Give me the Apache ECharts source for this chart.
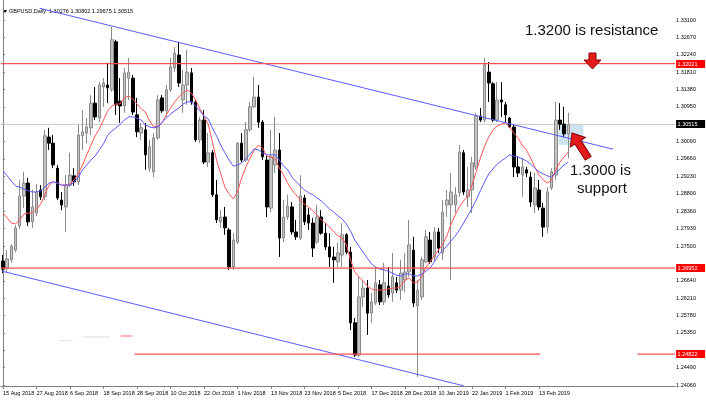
<!DOCTYPE html>
<html><head><meta charset="utf-8">
<script src="https://cdn.jsdelivr.net/npm/echarts@6/dist/echarts.min.js"></script>
<style>html,body{margin:0;padding:0;background:#fff}#c{width:706px;height:404px}</style>
</head><body><div id="c"></div>
<script>
// trading days per month
const aug = [15,16,17,20,21,22,23,24,27,28,29,30,31];
const sep = [3,4,5,6,7,10,11,12,13,14,17,18,19,20,21,24,25,26,27,28];
const oct = [1,2,3,4,5,8,9,10,11,12,15,16,17,18,19,22,23,24,25,26,29,30,31];
const nov = [1,2,5,6,7,8,9,12,13,14,15,16,19,20,21,22,23,26,27,28,29,30];
const dec = [3,4,5,6,7,10,11,12,13,14,17,18,19,20,21,24,26,27,28,31];
const jan = [2,3,4,7,8,9,10,11,14,15,16,17,18,21,22,23,24,25,28,29,30,31];
const feb = [1,4,5,6,7,8,11,12,13,14,15,18,19,20,21,22];
const emptySlots = 25;

const opens = [
1.2713,1.2696,1.2716,1.2740,1.2800,1.2874,1.2906,1.2810,1.2832,1.2889,
1.2872,1.3020,1.3005,1.2943,1.2864,1.2847,1.2901,1.2924,1.2909,1.3023,
1.3030,1.3043,1.3104,1.3067,1.3144,1.3149,1.3137,1.3256,1.3109,1.3097,
1.3166,1.3166,1.3075,1.3030,1.3038,1.2943,1.2934,1.3018,1.3117,1.3085,
1.3137,1.3191,1.3223,1.3112,1.3149,1.3179,1.3107,1.3013,1.3062,1.2958,
1.2981,1.2877,1.2810,1.2822,1.2790,1.2698,1.2760,1.3005,1.2963,1.3038,
1.3095,1.3119,1.3057,1.2963,1.2844,1.2951,1.2988,1.2770,1.2822,1.2847,
1.2785,1.2770,1.2869,1.2827,1.2807,1.2760,1.2822,1.2782,1.2748,1.2723,
1.2711,1.2728,1.2778,1.2735,1.2560,1.2480,1.2624,1.2646,1.2584,1.2609,
1.2654,1.2612,1.2651,1.2634,1.2659,1.2641,1.2666,1.2686,1.2740,1.2602,
1.2624,1.2711,1.2765,1.2723,1.2785,1.2733,1.2852,1.2852,1.2852,1.2882,
1.2981,1.2872,1.2889,1.2946,1.3072,1.3062,1.3181,1.3152,1.3062,1.3112,
1.3100,1.3067,1.3045,1.2946,1.2926,1.2939,1.2921,1.2852,1.2889,1.2844,
1.2797,1.2894,1.2926,1.3062,1.3052,1.30276];
const closes = [
1.2693,1.2718,1.2750,1.2795,1.2874,1.2906,1.2810,1.2847,1.2884,1.2872,
1.3023,1.3005,1.2951,1.2869,1.2852,1.2901,1.2926,1.2909,1.3025,1.3033,
1.3045,1.3104,1.3070,1.3149,1.3154,1.3142,1.3261,1.3100,1.3097,1.3179,
1.3181,1.3082,1.3033,1.3043,1.2976,1.2996,1.3018,1.3112,1.3085,1.3137,
1.3194,1.3228,1.3154,1.3149,1.3181,1.3107,1.3013,1.3062,1.2958,1.2981,
1.2877,1.2815,1.2822,1.2795,1.2698,1.2765,1.3005,1.2963,1.3038,1.3095,
1.3119,1.3057,1.2971,1.2847,1.2971,1.2988,1.2770,1.2822,1.2849,1.2785,
1.2773,1.2874,1.2810,1.2807,1.2745,1.2822,1.2782,1.2748,1.2723,1.2716,
1.2733,1.2778,1.2735,1.2560,1.2480,1.2624,1.2646,1.2584,1.2612,1.2659,
1.2612,1.2659,1.2629,1.2674,1.2641,1.2683,1.2686,1.2753,1.2609,1.2641,
1.2716,1.2773,1.2711,1.2785,1.2745,1.2834,1.2864,1.2884,1.2877,1.2983,
1.2884,1.2889,1.2956,1.3072,1.3062,1.3199,1.3154,1.3062,1.3112,1.3107,
1.3075,1.3045,1.2946,1.2931,1.2946,1.2931,1.2859,1.2894,1.2847,1.2797,
1.2884,1.2934,1.3062,1.3052,1.3028,1.30515];
const lows = [
1.2683,1.2683,1.2708,1.2735,1.2792,1.2844,1.2800,1.2795,1.2825,1.2864,
1.2864,1.2988,1.2943,1.2864,1.2839,1.2785,1.2896,1.2899,1.2901,1.2988,
1.3005,1.3025,1.3062,1.3057,1.3095,1.3104,1.3132,1.3075,1.3055,1.3080,
1.3112,1.3075,1.3020,1.3013,1.2939,1.2934,1.2921,1.3013,1.3080,1.3070,
1.3132,1.3181,1.3144,1.3080,1.3100,1.3100,1.3008,1.3005,1.2953,1.2946,
1.2872,1.2807,1.2795,1.2778,1.2691,1.2691,1.2755,1.2958,1.2958,1.3033,
1.3092,1.3043,1.2963,1.2822,1.2834,1.2931,1.2723,1.2760,1.2815,1.2778,
1.2765,1.2765,1.2802,1.2790,1.2723,1.2755,1.2778,1.2740,1.2698,1.2659,
1.2698,1.2698,1.2730,1.2542,1.2475,1.2475,1.2599,1.2530,1.2560,1.2604,
1.2604,1.2604,1.2622,1.2612,1.2634,1.2617,1.2636,1.2674,1.2599,1.2426,
1.2617,1.2708,1.2706,1.2711,1.2733,1.2716,1.2822,1.2666,1.2832,1.2872,
1.2877,1.2847,1.2832,1.2939,1.3057,1.3057,1.3107,1.3057,1.3057,1.3070,
1.3057,1.3043,1.2921,1.2921,1.2872,1.2921,1.2847,1.2832,1.2839,1.2773,
1.2782,1.2889,1.2914,1.3038,1.3020,1.29675];
const highs = [
1.2728,1.2740,1.2755,1.2802,1.2914,1.2934,1.2919,1.2889,1.2904,1.2901,
1.3038,1.3043,1.3025,1.2951,1.2884,1.2926,1.2981,1.2943,1.3050,1.3087,
1.3067,1.3124,1.3144,1.3156,1.3166,1.3204,1.3293,1.3261,1.3166,1.3191,
1.3216,1.3174,1.3117,1.3055,1.3055,1.3013,1.3030,1.3124,1.3124,1.3149,
1.3216,1.3243,1.3256,1.3186,1.3236,1.3191,1.3112,1.3070,1.3087,1.3030,
1.2988,1.2914,1.2839,1.2847,1.2795,1.2782,1.3008,1.3030,1.3057,1.3107,
1.3169,1.3149,1.3062,1.2976,1.3038,1.3070,1.3030,1.2864,1.2877,1.2859,
1.2815,1.2926,1.2877,1.2844,1.2820,1.2852,1.2839,1.2807,1.2782,1.2748,
1.2758,1.2807,1.2782,1.2748,1.2572,1.2674,1.2666,1.2666,1.2634,1.2698,
1.2666,1.2708,1.2698,1.2733,1.2674,1.2716,1.2733,1.2815,1.2773,1.2666,
1.2723,1.2790,1.2785,1.2797,1.2795,1.2864,1.2889,1.2931,1.2896,1.3000,
1.2988,1.2946,1.2971,1.3080,1.3092,1.3216,1.3206,1.3156,1.3156,1.3156,
1.3107,1.3070,1.3050,1.2971,1.2968,1.2946,1.2934,1.2931,1.2914,1.2857,
1.2896,1.2943,1.3107,1.3104,1.3095,1.30802];

// moving averages
const maRed = [
1.2832,1.2820,1.2807,1.2805,1.2815,1.2829,1.2832,1.2832,1.2842,1.2854,
1.2877,1.2901,1.2909,1.2906,1.2901,1.2901,1.2904,1.2914,1.2929,1.2951,
1.2976,1.3000,1.3023,1.3040,1.3062,1.3085,1.3097,1.3102,1.3102,1.3117,
1.3122,1.3114,1.3102,1.3090,1.3082,1.3060,1.3045,1.3047,1.3055,1.3075,
1.3092,1.3107,1.3119,1.3129,1.3137,1.3129,1.3112,1.3090,1.3072,1.3052,
1.3008,1.2963,1.2929,1.2896,1.2879,1.2867,1.2884,1.2919,1.2946,1.2968,
1.2988,1.3000,1.2993,1.2973,1.2971,1.2966,1.2943,1.2926,1.2906,1.2889,
1.2877,1.2864,1.2854,1.2847,1.2837,1.2827,1.2815,1.2807,1.2797,1.2785,
1.2775,1.2770,1.2753,1.2716,1.2686,1.2674,1.2664,1.2651,1.2644,1.2641,
1.2641,1.2641,1.2644,1.2646,1.2646,1.2651,1.2666,1.2671,1.2659,1.2661,
1.2674,1.2698,1.2711,1.2726,1.2740,1.2755,1.2775,1.2805,1.2827,1.2847,
1.2862,1.2874,1.2901,1.2934,1.2968,1.2998,1.3020,1.3038,1.3047,1.3052,
1.3055,1.3045,1.3030,1.3018,1.3000,1.2988,1.2968,1.2946,1.2926,1.2914,
1.2906,1.2914,1.2939,1.2958,1.2971,1.2983];
const maBlue = [
1.2936,1.2924,1.2911,1.2899,1.2896,1.2891,1.2887,1.2884,1.2884,1.2887,
1.2896,1.2906,1.2909,1.2906,1.2901,1.2901,1.2901,1.2909,1.2921,1.2939,
1.2951,1.2963,1.2973,1.2988,1.3003,1.3025,1.3035,1.3043,1.3052,1.3062,
1.3070,1.3070,1.3067,1.3062,1.3050,1.3045,1.3043,1.3045,1.3057,1.3067,
1.3077,1.3085,1.3092,1.3102,1.3107,1.3107,1.3097,1.3085,1.3072,1.3065,
1.3043,1.3023,1.3000,1.2981,1.2963,1.2948,1.2951,1.2956,1.2966,1.2978,
1.2991,1.2988,1.2981,1.2976,1.2976,1.2976,1.2963,1.2948,1.2939,1.2921,
1.2909,1.2899,1.2889,1.2882,1.2877,1.2869,1.2862,1.2852,1.2842,1.2834,
1.2825,1.2817,1.2805,1.2787,1.2765,1.2750,1.2735,1.2720,1.2706,1.2698,
1.2693,1.2691,1.2688,1.2683,1.2678,1.2676,1.2681,1.2681,1.2676,1.2676,
1.2681,1.2688,1.2696,1.2711,1.2728,1.2740,1.2750,1.2763,1.2775,1.2790,
1.2807,1.2825,1.2844,1.2864,1.2887,1.2909,1.2929,1.2941,1.2953,1.2961,
1.2968,1.2976,1.2973,1.2971,1.2966,1.2961,1.2953,1.2943,1.2934,1.2929,
1.2924,1.2921,1.2931,1.2941,1.2951,1.2958];

// drawn objects: [barIndex, price]
const upperTrend = [[8.74, 1.3339], [145.7, 1.2990]];
const lowerTrend = [[-0.24, 1.2688], [110.0, 1.2404]];
const resistance = 1.32021;
const support = 1.26952;
const lowLevel = 1.24822;
const bid = 1.30515;
const lowLevelSegs = [[31.4, 128.3], [151.5, 160.5]];
const zone = [[132.7, 1.30499], [138.6, 1.30004]];
const yTickValues = [1.24060,1.24490,1.24920,1.25350,1.25780,1.26210,1.26640,1.27070,1.27500,1.27930,
  1.28360,1.28800,1.29230,1.29660,1.30090,1.30515,1.30950,1.31380,1.31810,1.32240,1.32670,1.33100];
const yLabelValues = [1.24060,1.24490,1.25350,1.25780,1.26210,1.26640,1.27500,1.27930,
  1.28360,1.28800,1.29230,1.29660,1.30090,1.30950,1.31380,1.31810,1.32240,1.32670,1.33100];
const titleText = 'GBPUSD,Daily  1.30276 1.30802 1.29675 1.30515';

const categories = [
  ...aug.map(d => d + ' Aug 2018'), ...sep.map(d => d + ' Sep 2018'), ...oct.map(d => d + ' Oct 2018'),
  ...nov.map(d => d + ' Nov 2018'), ...dec.map(d => d + ' Dec 2018'), ...jan.map(d => d + ' Jan 2019'),
  ...feb.map(d => d + ' Feb 2019')];
const nBars = categories.length;
for (let k = 0; k < emptySlots; k++) categories.push('~' + k);
const xMax = nBars + emptySlots - 0.5;
const candleData = opens.map((o, i) => [o, closes[i], lows[i], highs[i]]);
const labelShown = (idx) => idx % 8 === 0 && idx < nBars;

const FONT = 'Liberation Sans';
const RED = '#ff5050';

function seg(pts, color, z) {
  return {type: 'line', xAxisIndex: 1, data: pts, symbol: 'none', silent: true,
    z: z, lineStyle: {color: color, width: 1}};
}

const chart = echarts.init(document.getElementById('c'), null, {renderer: 'canvas'});
chart.setOption({
  animation: false,
  backgroundColor: '#ffffff',
  grid: {left: -1.1, right: 30.9, top: 0, bottom: 18},
  xAxis: [{
    type: 'category', data: categories, boundaryGap: true,
    axisLine: {lineStyle: {color: '#808080', width: 1}},
    axisTick: {show: true, interval: labelShown, alignWithLabel: true, length: 3, lineStyle: {color: '#808080'}},
    axisLabel: {interval: labelShown, fontSize: 5.5, fontFamily: FONT, color: '#000', align: 'left', margin: 4},
    splitLine: {show: false}
  }, {
    type: 'value', min: -0.5, max: xMax, show: false, splitLine: {show: false},
    axisLine: {show: false}, axisTick: {show: false}, axisLabel: {show: false}
  }],
  yAxis: {
    type: 'value', position: 'right', min: 1.24035, max: 1.33595, scale: true,
    axisLine: {show: true, lineStyle: {color: '#808080'}},
    axisTick: {show: true, customValues: yTickValues, length: 2, lineStyle: {color: '#808080'}},
    axisLabel: {customValues: yLabelValues, formatter: v => v.toFixed(5),
      fontSize: 5.5, fontFamily: FONT, color: '#000', margin: 1},
    splitLine: {show: false}
  },
  series: [
    {
      type: 'line', xAxisIndex: 1, data: [], z: 1,
      markArea: {silent: true, itemStyle: {color: 'rgba(173,210,235,0.6)'},
        data: [[{coord: zone[0]}, {coord: zone[1]}]]}
    },
    {
      type: 'candlestick', data: candleData, barWidth: 3, z: 2,
      itemStyle: {color: '#c4c4c4', color0: '#000000', borderColor: '#8a8a8a', borderColor0: '#000000', borderWidth: 1}
    },
    {type: 'line', data: maRed, symbol: 'none', z: 3, lineStyle: {color: '#ff5555', width: 1}},
    {type: 'line', data: maBlue, symbol: 'none', z: 3, lineStyle: {color: '#5a5aff', width: 1}},
    seg(upperTrend, '#5a5aff', 4),
    seg(lowerTrend, '#5a5aff', 4)
  ]
});

// horizontal levels and price tags: positions come from the chart's own scales
const px = (xv, yv) => chart.convertToPixel({xAxisIndex: 1, yAxisIndex: 0}, [xv, yv]);
const rightEdge = px(xMax, bid)[0];
function hl(x0, x1, v, color, z, w) {
  const a = px(x0, v), b = px(x1, v);
  return {type: 'line', z: z, silent: true, shape: {x1: a[0], y1: a[1], x2: b[0], y2: b[1]},
    style: {stroke: color, lineWidth: w}};
}
function tag(v, bg) {
  const y = Math.round(px(0, v)[1]);
  return {type: 'group', z: 70, children: [
    {type: 'rect', shape: {x: rightEdge + 1, y: y - 4, width: 29, height: 8}, style: {fill: bg}},
    {type: 'text', x: rightEdge + 2.5, y: y, style: {text: v.toFixed(5), font: '5.5px ' + FONT, fill: '#fff', verticalAlign: 'middle'}}
  ]};
}
chart.setOption({
  graphic: [
    hl(-0.5, xMax, bid, '#c8c8c8', 1, 1),
    hl(-0.5, xMax, resistance, RED, 50, 1.25),
    hl(-0.5, xMax, support, RED, 50, 1.25),
    hl(lowLevelSegs[0][0], lowLevelSegs[0][1], lowLevel, RED, 50, 1.25),
    hl(lowLevelSegs[1][0], lowLevelSegs[1][1], lowLevel, RED, 50, 1.25),
    tag(bid, '#000000'), tag(resistance, '#ff0000'), tag(support, '#ff0000'), tag(lowLevel, '#ff0000'),
    {type: 'polygon', shape: {points: [[3, 10], [7, 10], [5, 13]]}, style: {fill: '#000'}},
    {type: 'text', left: 9, top: 8, style: {text: titleText, font: '5.5px ' + FONT, fill: '#000'}},
    {type: 'line', shape: {x1: 83, y1: 337, x2: 110, y2: 337}, style: {stroke: '#dcdcdc', lineWidth: 1}},
    {type: 'line', shape: {x1: 59, y1: 340.5, x2: 73, y2: 340.5}, style: {stroke: '#e4e4e4', lineWidth: 1}},
    {type: 'line', shape: {x1: 121, y1: 336, x2: 132, y2: 336}, style: {stroke: '#ff6060', lineWidth: 1}},
    {type: 'text', left: 525, top: 23, style: {text: '1.3200 is resistance', font: '15px ' + FONT, fill: '#111'}},
    {type: 'text', left: 570, top: 163, style: {text: '1.3000 is', font: '15px ' + FONT, fill: '#111'}},
    {type: 'text', left: 577, top: 181, style: {text: 'support', font: '15px ' + FONT, fill: '#111'}},
    {type: 'polygon', z: 60, shape: {points: [[589, 53], [596, 53], [596, 60], [601, 60], [592.5, 69], [584, 60], [589, 60]]},
      style: {fill: '#e31b1b', stroke: '#8b0000', lineWidth: 1}},
    {type: 'polygon', z: 60, x: 572, y: 133, rotation: 0.57,
      shape: {points: [[0, 0], [9, 11], [3.5, 11], [3.5, 30], [-3.5, 30], [-3.5, 11], [-9, 11]]},
      style: {fill: '#e31b1b', stroke: '#8b0000', lineWidth: 1}}
  ]
});
</script></body></html>
